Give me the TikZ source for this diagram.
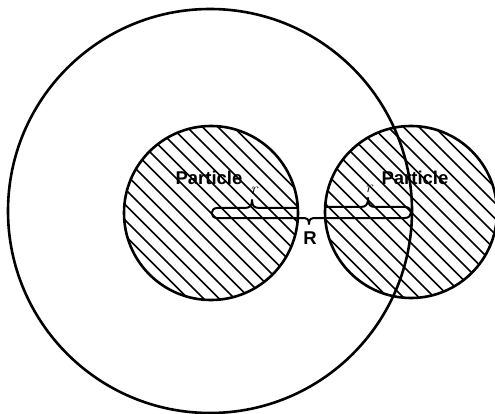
\documentclass[tikz,border=0pt]{standalone}
\usepackage{fontspec}
\setsansfont{Liberation Sans}
\usetikzlibrary{calc}
\begin{document}
\begin{tikzpicture}[x=1pt,y=-1pt,
  outline/.style={line width=2.6pt},
  hatchline/.style={line width=1.5pt},
  bracepath/.style={line width=2pt, line join=round},
  plabel/.style={font=\sffamily\bfseries\fontsize{18.5}{21}\selectfont, inner sep=0pt},
  rlabel/.style={font=\rmfamily\itshape\fontsize{17}{19}\selectfont, inner sep=0pt}]
\useasboundingbox (0,0) rectangle (495,414);
% centres
\coordinate (c1) at (211,213);
\coordinate (c2) at (411,212);
\coordinate (cb) at (210,211);
% hatching
\begin{scope}
  \clip (c1) circle[radius=87pt];
  \foreach \k in {-20,...,20} {
    \draw[hatchline] ($(c1)+(\k*15.5-120,-120)$) -- ++(240,240);
  }
\end{scope}
\begin{scope}
  \clip (c2) circle[radius=86pt];
  \foreach \k in {-20,...,20} {
    \draw[hatchline] ($(c2)+(\k*15.5-120,-120)$) -- ++(240,240);
  }
\end{scope}
\draw[outline] (c1) circle[radius=87pt];
\draw[outline] (c2) circle[radius=86pt];
\draw[outline] (cb) circle[radius=202pt];
% braces r, R, r
\draw[bracepath] (298,208) -- (260,208)
  .. controls (254,208) and (252,206) .. (252,200)
  .. controls (252,206) and (250,208) .. (244,208)
  -- (217,208) .. controls (210,208) and (210,218) .. (217,218)
  -- (302,218) .. controls (307,218) and (309,219) .. (309,224)
  .. controls (309,219) and (311,218) .. (316,218)
  -- (405,218) .. controls (413,218) and (413,207) .. (405,207)
  -- (376,207) .. controls (370,207) and (368,205) .. (368,198)
  .. controls (368,205) and (366,207) .. (360,207) -- (325,207);
% labels
\node[plabel] (p1) at (209,178) {Particle};
\node[plabel] (p2) at (415,178) {Particle};
\node[rlabel] (r1) at (254,191) {r};
\node[rlabel] (r2) at (369,189) {r};
\node[plabel] (R) at (310,238) {R};
\end{tikzpicture}
\end{document}
